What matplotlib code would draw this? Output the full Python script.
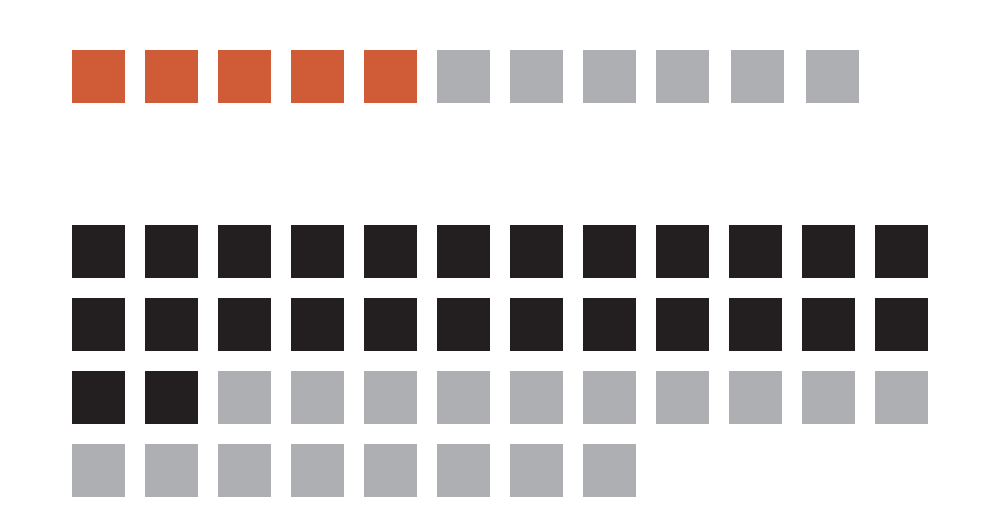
import matplotlib
matplotlib.use("Agg")
import matplotlib.pyplot as plt
from matplotlib.patches import Rectangle

# waffle data
top_labels = ["highlight", "rest"]
top_counts = [5, 6]
top_colors = ["#CF5C36", "#AEAFB2"]
top_ncols = 11

bottom_labels = ["filled", "rest"]
bottom_counts = [26, 18]
bottom_colors = ["#231F20", "#AEAFB2"]
bottom_ncols = 12

# layout (in pixel units of the 1000x524 canvas)
x0 = 72
pitch = 73
size = 53
top_y0 = 50
bottom_y0 = 225
# the top strip's last two squares sit a little wider apart in the original
top_shift = [0] * 9 + [2, 4]

fig = plt.figure(figsize=(10, 5.24), dpi=100)
ax = fig.add_axes([0, 0, 1, 1])
ax.set_xlim(0, 1000)
ax.set_ylim(524, 0)
ax.axis("off")


def draw_waffle(counts, colors, ncols, y0, shift=None):
    k = 0
    for n, c in zip(counts, colors):
        for _ in range(n):
            row, col = divmod(k, ncols)
            dx = shift[col] if shift else 0
            ax.add_patch(Rectangle((x0 + col * pitch + dx, y0 + row * pitch), size, size,
                                   facecolor=c, edgecolor="none"))
            k += 1


draw_waffle(top_counts, top_colors, top_ncols, top_y0, top_shift)
draw_waffle(bottom_counts, bottom_colors, bottom_ncols, bottom_y0)

fig.savefig("out.png", dpi=100, facecolor="white")
